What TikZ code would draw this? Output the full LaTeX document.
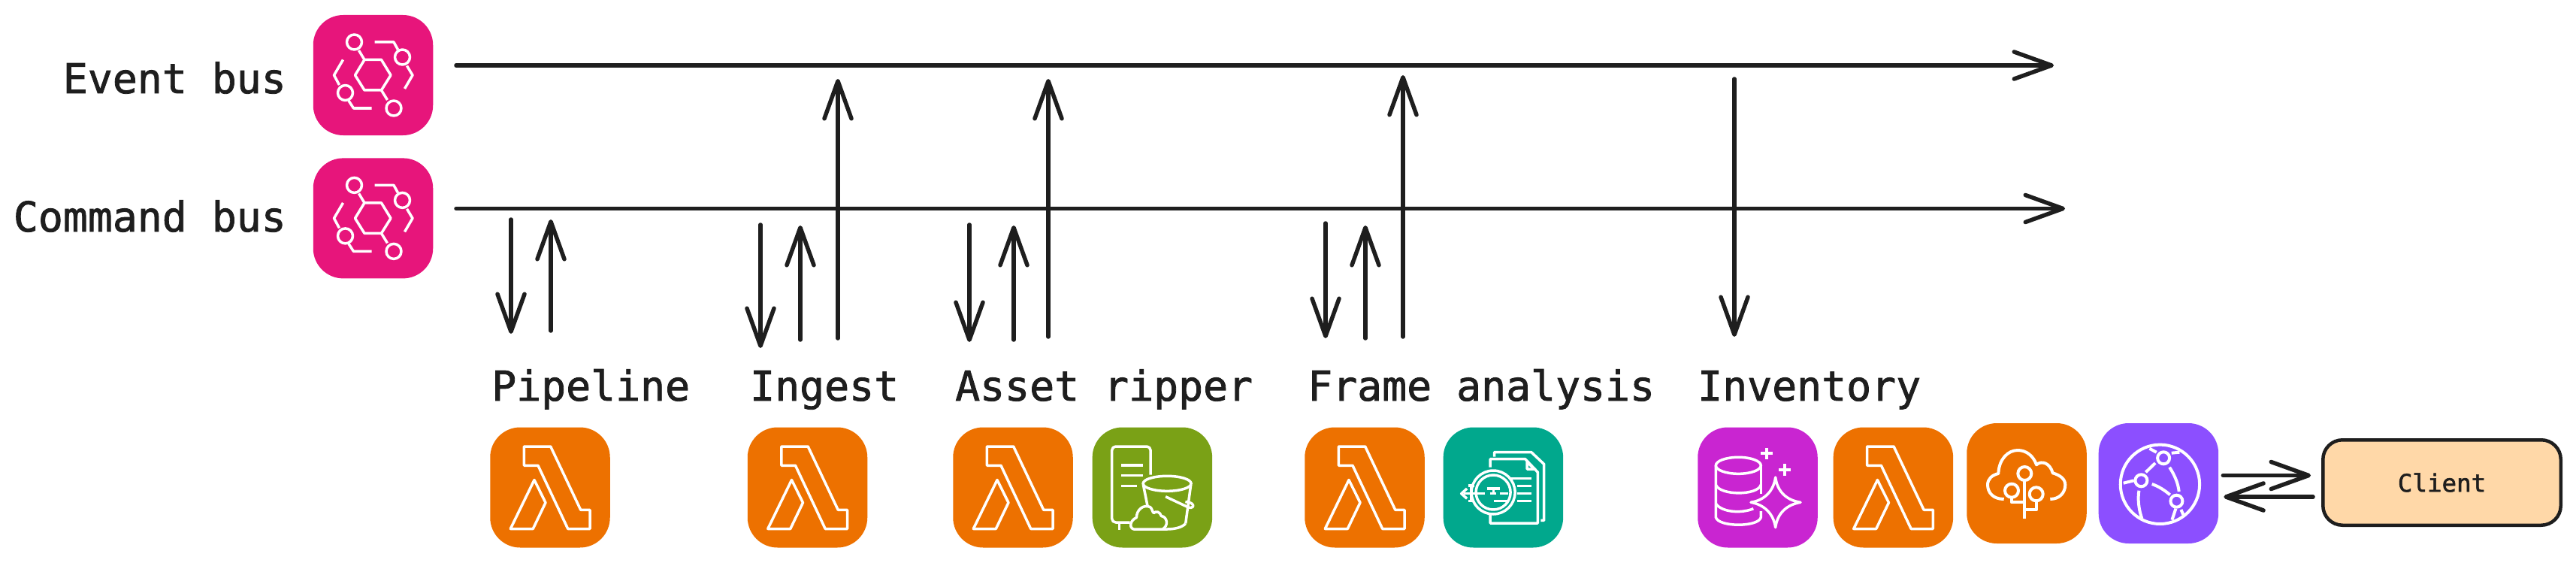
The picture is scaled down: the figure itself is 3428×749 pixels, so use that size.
\documentclass[tikz,border=0pt]{standalone}
\usepackage{fontspec}
\setmonofont[FakeBold=1.5]{DejaVu Sans Mono}
\usepackage{xcolor}
\usetikzlibrary{arrows.meta, positioning, calc}
\definecolor{InkBlack}{RGB}{30, 30, 30}
\definecolor{BusPink}{RGB}{231, 21, 123}
\definecolor{LambdaOrange}{RGB}{237, 113, 0}
\definecolor{StoreGreen}{RGB}{122, 161, 22}
\definecolor{ScanTeal}{RGB}{1, 168, 141}
\definecolor{DataPurple}{RGB}{201, 37, 209}
\definecolor{WebViolet}{RGB}{140, 79, 255}
\definecolor{ClientPeach}{RGB}{255, 216, 168}
\tikzset{
  lbl/.style={anchor=base west, inner sep=0pt, text=InkBlack,
    font=\fontsize{54.8}{60}\selectfont\ttfamily},
  tile/.style={rectangle, rounded corners=40pt, minimum width=159.5pt,
    minimum height=160pt, inner sep=0pt},
  clientbox/.style={rectangle, rounded corners=26pt, minimum width=316.5pt,
    minimum height=113.5pt, draw=InkBlack, line width=4.5pt, fill=ClientPeach,
    text=InkBlack, font=\fontsize{32.5}{36}\selectfont\ttfamily},
  arr/.style={-{Straight Barb[length=50pt, width=36pt, round]}, line width=5.5pt,
    color=InkBlack, line cap=round},
  ico/.style={draw=white, line width=3.5pt, line join=round, fill=none},
  pics/busicon/.style={code={
    \draw[ico] (-24,0)--(-11.5,-20.5)--(11,-20.5)--(23.5,0)--(11,20)--(-11.5,20)--cycle;
    \draw[ico] (-25,-44) circle [radius=10pt] (27.5,44) circle [radius=10pt]
      (39,-24) circle [radius=10pt] (-37,23.5) circle [radius=10pt];
    \draw[ico] (-11.5,-20.5)--(-19,-33) (11,20)--(19,33);
    \draw[ico] (2,-44)--(27.5,-44)--(33,-34) (45,-12.5)--(52.5,0)--(42,18);
    \draw[ico] (-40,-20.5)--(-52,0)--(-45,13) (-32.5,34)--(-26,44)--(-2,44);
  }},
  pics/lambdaicon/.style={code={
    \draw[ico] (-34.7,-54.5)--(0.7,-54.5)--(40.7,29.8)--(53,29.8)--(53,55)--(23.7,55)
      --(-16,-29.2)--(-34.7,-29.2)--cycle;
    \draw[ico] (-21,-10)--(-6,20.2)--(-22.7,55)--(-52.7,55)--cycle;
  }},
  pics/storeicon/.style={code={
    \draw[ico, rounded corners=5pt] (-2.3,-16.8)--(-2.3,-54.5)--(-53.7,-54.5)--(-53.7,46.5)--(-29.7,46.5);
    \draw[ico] (-44,46.5)--(-44,56.5);
    \draw[ico] (-41.3,-29.5)--(-12.3,-29.5) (-41.3,-15.8)--(-12.3,-15.8) (-41.3,-1.8)--(-20.3,-1.8);
    \draw[ico] (19.7,-5.2) ellipse [x radius=32pt, y radius=10pt];
    \draw[ico] (-12,-3.5)--(-6.3,25) (51.3,-3.5)--(44.3,48);
    \draw[ico] (44.3,48) .. controls (40,53) and (30,55.5) .. (20,55.5)--(13.7,55.5);
    \draw[ico] (17.7,12.2)--(47,26) .. controls (54,29) and (57,24) .. (52,21) .. controls (50,20) and (47,19) .. (44,19);
    \draw[ico] (-24.7,55.5) .. controls (-31,54) and (-30,44) .. (-21,40)
      .. controls (-21,30) and (-12,22) .. (-3,26) .. controls (0,28) and (0,33) .. (2,34)
      .. controls (5,31) and (10,32) .. (12,38) .. controls (20,39) and (22,51) .. (13.7,55.5)--cycle;
  }},
  pics/scanicon/.style={code={
    \draw[ico] (-11.7,-41)--(-11.7,-47)--(37.3,-47)--(54.3,-31)--(54.3,43.8)--(50,43.8);
    \draw[ico] (-17.3,-27)--(-17.3,-37.8)--(29.3,-37.8)--(46,-20.2)--(46,47.5)--(-17.3,47.5)--(-17.3,36.5);
    \draw[ico] (31.7,-33.5)--(31.7,-24.5)--(41.7,-24.5)--cycle;
    \draw[ico] (10,-11.8)--(37.7,-11.8) (18.3,-1.8)--(37.7,-1.8) (18.3,8.2)--(37.7,8.2) (18.3,18.2)--(37.7,18.2);
    \draw[ico] (-13.3,6.5) circle [radius=29pt] (-13.3,6.5) circle [radius=23pt];
    \draw[ico] (-21.7,1.5)--(-4,1.5) (-13,1.5)--(-13,8) (-17,8)--(-9,8);
    \draw[ico] (-52,8.2)--(-24,8.2) (-4,8.2)--(6.7,8.2) (-12.7,18.2)--(6.7,18.2);
    \draw[ico] (-46.7,-2.5)--(-38,-2.5) (-46.7,18.2)--(-38,18.2) (-43,-2.5)--(-43,18.2);
    \draw[ico] (-48.3,1.5)--(-55.7,8.2)--(-48.3,14.8);
  }},
  pics/dataicon/.style={code={
    \draw[ico] (-25.7,-29.2) ellipse [x radius=30pt, y radius=11pt];
    \draw[ico] (-55.7,-29.2)--(-55.7,39.8) .. controls (-52,53) and (1,53) .. (4.3,39.8)--(4.3,31.5);
    \draw[ico] (4.3,-29.2)--(4.3,8.2);
    \draw[ico] (-55.7,-3.5) .. controls (-50,11) and (0,11) .. (4.3,-3.5);
    \draw[ico] (-55.7,21.5) .. controls (-48,33) and (-22,35) .. (-5.7,28.2);
    \draw[ico] (23.7,-13.5) .. controls (26,5) and (38,17) .. (57,19.8)
      .. controls (38,23) and (26,35) .. (23.7,53.2)
      .. controls (21,35) and (9,23) .. (-9,19.8)
      .. controls (9,17) and (21,5) .. (23.7,-13.5)--cycle;
    \draw[ico, line width=4pt] (12,-53)--(12,-37.4) (4.2,-45.2)--(19.8,-45.2)
      (36,-31.3)--(36,-15.7) (28.2,-23.5)--(43.8,-23.5);
  }},
  pics/cloudicon/.style={code={
    \draw[ico, line width=4pt] (-30.3,21) .. controls (-45,21) and (-52,12) .. (-52,2)
      .. controls (-52,-6) and (-46,-11) .. (-37.7,-13)
      .. controls (-37,-32) and (-25,-44) .. (-12,-44)
      .. controls (0,-44) and (9,-36) .. (13,-24.7)
      .. controls (20,-31) and (31,-27) .. (34.7,-13.7)
      .. controls (44,-11) and (51.3,-6) .. (51.3,2)
      .. controls (51.3,12) and (44,21) .. (31.3,21);
    \draw[ico, line width=4pt] (-2.7,-13) circle [radius=9pt] (-20,9.7) circle [radius=9pt]
      (12.7,14.3) circle [radius=9pt];
    \draw[ico, line width=4pt] (-2.7,-4)--(-2.7,47) (-20,18.7)--(-20,25.3)--(-2.7,25.3)
      (12.7,23.3)--(12.7,35.3)--(-2.7,35.3);
  }},
  pics/webicon/.style={code={
    \draw[ico, line width=4pt] (2,1.3) circle [radius=52.7pt];
    \draw[ico, line width=4pt] (6.7,-33.7) circle [radius=8pt] (-23,-3.7) circle [radius=8pt]
      (24,23.7) circle [radius=8pt];
    \draw[ico, line width=4pt] (-17,-14.7)--(-4.3,-27) (-46.7,-0.3)--(-32.7,-3.7)
      (-12,-46.3)--(-2.7,-41.3) (17.3,-40.3)--(28,-41.3);
    \draw[ico, line width=4pt] (14.7,-21.3) .. controls (22,-10) and (26,0) .. (27.3,11);
    \draw[ico, line width=4pt] (-8.7,1) .. controls (0,4) and (8,9) .. (15.3,15.3);
    \draw[ico, line width=4pt] (-26,9.7) .. controls (-28,22) and (-26,36) .. (-22,47);
    \draw[ico, line width=4pt] (23,33.7)--(18,48.7) (30,35)--(33,42);
  }},
}
\begin{document}
\begin{tikzpicture}[x=1pt, y=-1pt]
  \useasboundingbox (0,0) rectangle (3428,749);
  % buses
  \node[tile, fill=BusPink] (evtile) at (496.5,100) {};
  \node[tile, fill=BusPink, below=30pt of evtile] (cmdtile) {};
  \pic at (evtile) {busicon};
  \pic at (cmdtile) {busicon};
  \node[lbl, anchor=base east] (evlbl) at (381,124) {Event bus};
  \node[lbl, anchor=base east] (cmdlbl) at (381,308) {Command bus};
  \coordinate (evbus0) at (607,87);
  \coordinate (evbus1) at (2733,87);
  \coordinate (cmdbus0) at (607,277.5);
  \coordinate (cmdbus1) at (2748,277.5);
  \draw[arr] (evbus0)--(evbus1);
  \draw[arr] (cmdbus0)--(cmdbus1);
  % services
  \node[tile, fill=LambdaOrange] (pipefn) at (732,648.5) {};
  \node[tile, fill=LambdaOrange] (ingestfn) at (1074.5,648.5) {};
  \node[tile, fill=LambdaOrange] (assetfn) at (1348,648.5) {};
  \node[tile, fill=StoreGreen, right=25.5pt of assetfn] (assetstore) {};
  \node[tile, fill=LambdaOrange] (framefn) at (1816,648.5) {};
  \node[tile, fill=ScanTeal, right=24.5pt of framefn] (framescan) {};
  \node[tile, fill=DataPurple] (invdata) at (2339,648.5) {};
  \node[tile, fill=LambdaOrange, right=20.5pt of invdata] (invfn) {};
  \node[tile, fill=LambdaOrange] (invcloud) at (2697,643) {};
  \node[tile, fill=WebViolet, right=15.5pt of invcloud] (invweb) {};
  \pic at (pipefn) {lambdaicon};
  \pic at (ingestfn) {lambdaicon};
  \pic at (assetfn) {lambdaicon};
  \pic at (assetstore) {storeicon};
  \pic at (framefn) {lambdaicon};
  \pic at (framescan) {scanicon};
  \pic at (invdata) {dataicon};
  \pic at (invfn) {lambdaicon};
  \pic at (invcloud) {cloudicon};
  \pic at (invweb) {webicon};
  \node[lbl] (pipelbl) at (654,533) {Pipeline};
  \node[lbl] (ingestlbl) at (998,533) {Ingest};
  \node[lbl] (assetlbl) at (1271,533) {Asset ripper};
  \node[lbl] (framelbl) at (1740,533) {Frame analysis};
  \node[lbl] (invlbl) at (2259,533) {Inventory};
  % arrow ends
  \coordinate (pipedn0) at (680,292);   \coordinate (pipedn1) at (680,444);
  \coordinate (pipeup0) at (733,440);   \coordinate (pipeup1) at (733,292);
  \coordinate (ingdn0) at (1012,299);   \coordinate (ingdn1) at (1012,463);
  \coordinate (ingup0) at (1065,452);   \coordinate (ingup1) at (1065,300);
  \coordinate (ingev0) at (1115,450);   \coordinate (ingev1) at (1115,105);
  \coordinate (assdn0) at (1290,299);   \coordinate (assdn1) at (1290,455);
  \coordinate (assup0) at (1349,452);   \coordinate (assup1) at (1349,300);
  \coordinate (assev0) at (1395,448);   \coordinate (assev1) at (1395,105);
  \coordinate (frmdn0) at (1764,297);   \coordinate (frmdn1) at (1764,450);
  \coordinate (frmup0) at (1817,450);   \coordinate (frmup1) at (1817,300);
  \coordinate (frmev0) at (1867,448);   \coordinate (frmev1) at (1867,100);
  \coordinate (invdn0) at (2308,105);   \coordinate (invdn1) at (2308,448);
  \draw[arr](pipedn0)--(pipedn1); \draw[arr](pipeup0)--(pipeup1);
  \draw[arr](ingdn0)--(ingdn1); \draw[arr](ingup0)--(ingup1); \draw[arr](ingev0)--(ingev1);
  \draw[arr](assdn0)--(assdn1); \draw[arr](assup0)--(assup1); \draw[arr](assev0)--(assev1);
  \draw[arr](frmdn0)--(frmdn1); \draw[arr](frmup0)--(frmup1); \draw[arr](frmev0)--(frmev1);
  \draw[arr](invdn0)--(invdn1);
  % client
  \node[clientbox] (client) at (3249.5,642) {Client};
  \draw[arr] ($(invweb.east)+(6,-10.5)$)--($(client.west)+(-14,-9.5)$);
  \draw[arr] ($(client.west)+(-11,19)$)--($(invweb.east)+(7,18)$);
\end{tikzpicture}
\end{document}
